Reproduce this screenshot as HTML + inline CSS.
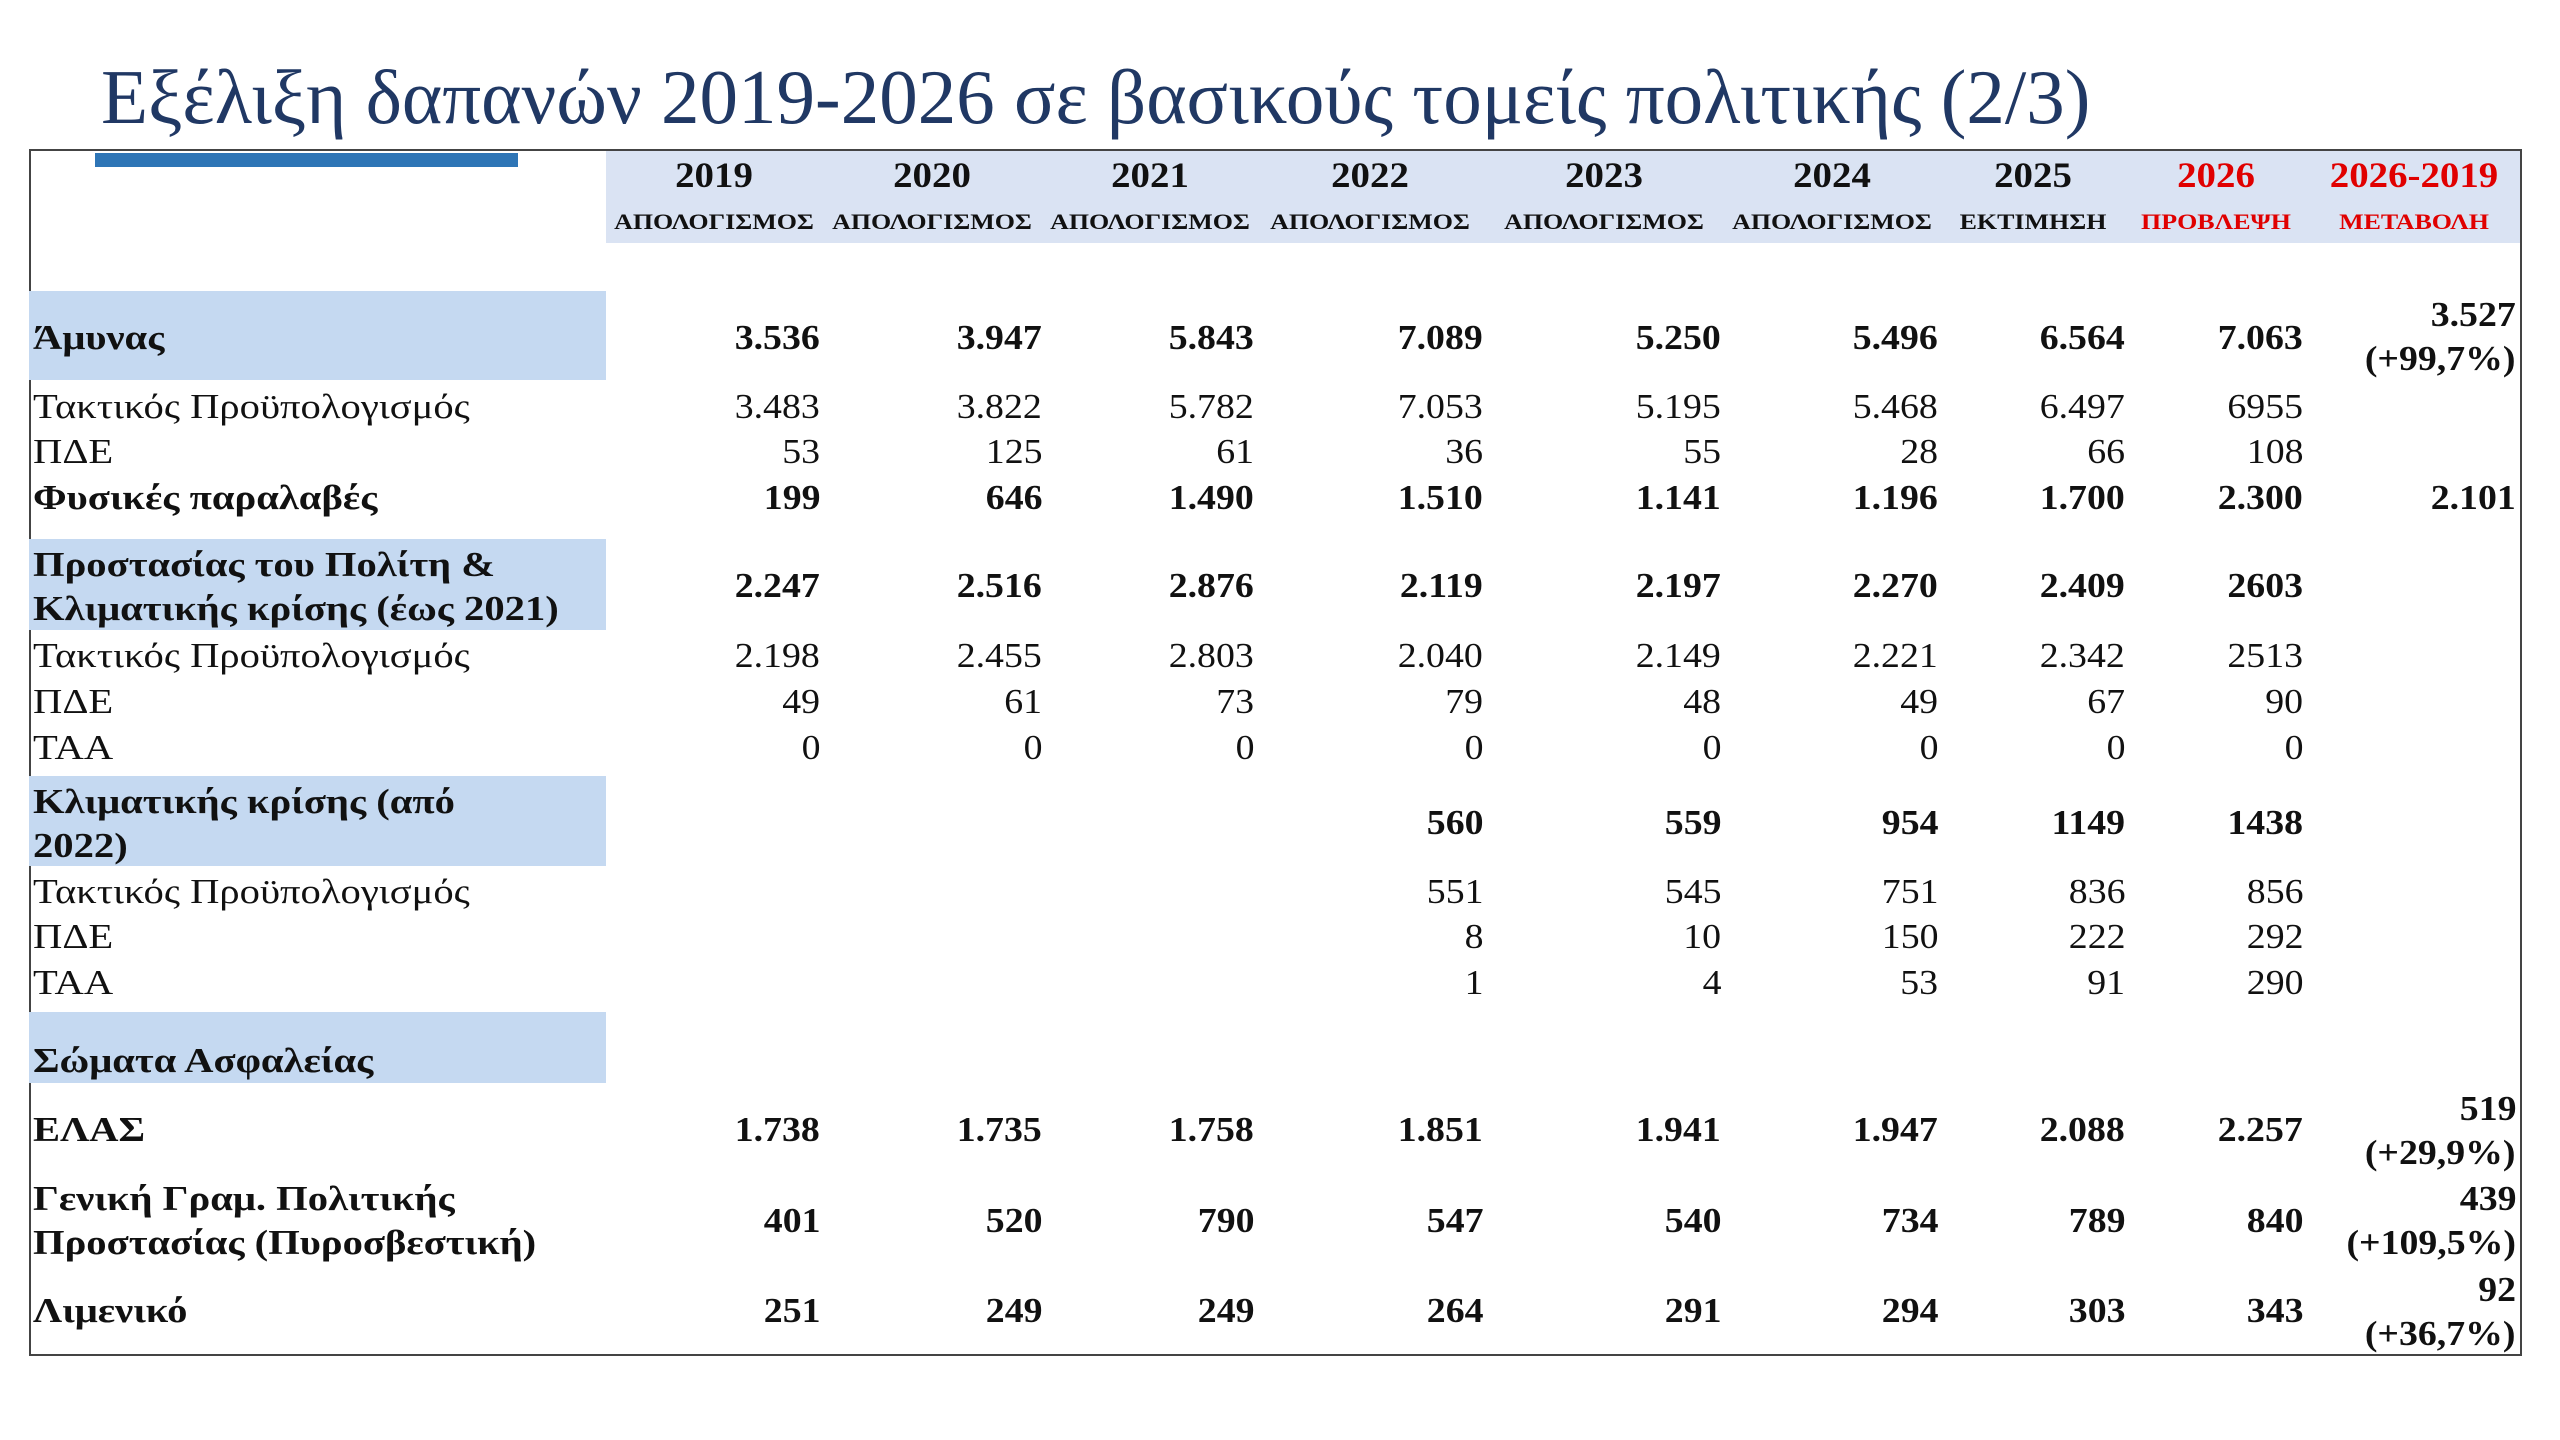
<!DOCTYPE html>
<html><head><meta charset="utf-8"><style>
body{margin:0;width:2560px;height:1440px;background:#fff;position:relative;overflow:hidden;font-family:"Liberation Serif","DejaVu Serif",serif;color:#111}
div{position:absolute;white-space:nowrap}
.t{left:101px;top:47px;font-size:77px;line-height:100px;color:#203864}
.box{left:29px;top:149px;width:2489px;height:1203px;border:2px solid #444}
.hb{left:606px;top:149px;width:1914px;height:94px;background:#dae3f3}
.bar{left:95px;top:153px;width:423px;height:14px;background:#2e75b6}
.band{left:29px;width:577px;background:#c5d9f1}
.y{font-size:36px;font-weight:bold;line-height:46px;top:152px;transform:translateX(-50%) scaleX(1.08)}
.s{font-size:22px;font-weight:bold;line-height:30px;top:207px;transform:translateX(-50%) scaleX(1.18)}
.r{color:#e00000}
.l{left:33px;font-size:35px;line-height:46px;transform:scaleX(1.16);transform-origin:left center}
.n{font-size:35px;line-height:46px;transform:scaleX(1.08);transform-origin:right center}
.b{font-weight:bold}
.c1{right:1740px}.c2{right:1518px}.c3{right:1306px}.c4{right:1077px}.c5{right:839px}.c6{right:622px}.c7{right:435px}.c8{right:257px}.c9{right:44px}
</style></head><body>
<div class="t">Εξέλιξη δαπανών 2019-2026 σε βασικούς τομείς πολιτικής (2/3)</div>
<div class="hb"></div>
<div class="box"></div>
<div class="bar"></div>
<div class="y" style="left:714px">2019</div><div class="s" style="left:714px">ΑΠΟΛΟΓΙΣΜΟΣ</div>
<div class="y" style="left:932px">2020</div><div class="s" style="left:932px">ΑΠΟΛΟΓΙΣΜΟΣ</div>
<div class="y" style="left:1150px">2021</div><div class="s" style="left:1150px">ΑΠΟΛΟΓΙΣΜΟΣ</div>
<div class="y" style="left:1370px">2022</div><div class="s" style="left:1370px">ΑΠΟΛΟΓΙΣΜΟΣ</div>
<div class="y" style="left:1604px">2023</div><div class="s" style="left:1604px">ΑΠΟΛΟΓΙΣΜΟΣ</div>
<div class="y" style="left:1832px">2024</div><div class="s" style="left:1832px">ΑΠΟΛΟΓΙΣΜΟΣ</div>
<div class="y" style="left:2033px">2025</div><div class="s" style="left:2033px">ΕΚΤΙΜΗΣΗ</div>
<div class="y r" style="left:2216px">2026</div><div class="s r" style="left:2216px">ΠΡΟΒΛΕΨΗ</div>
<div class="y r" style="left:2414px">2026-2019</div><div class="s r" style="left:2414px">ΜΕΤΑΒΟΛΗ</div>

<div class="band" style="top:291px;height:89px"></div>
<div class="band" style="top:539px;height:91px"></div>
<div class="band" style="top:776px;height:90px"></div>
<div class="band" style="top:1012px;height:71px"></div>

<div class="l b" style="top:315px">Άμυνας</div>
<div class="n b c1" style="top:315px">3.536</div><div class="n b c2" style="top:315px">3.947</div><div class="n b c3" style="top:315px">5.843</div><div class="n b c4" style="top:315px">7.089</div><div class="n b c5" style="top:315px">5.250</div><div class="n b c6" style="top:315px">5.496</div><div class="n b c7" style="top:315px">6.564</div><div class="n b c8" style="top:315px">7.063</div>
<div class="n b c9" style="top:292px">3.527</div><div class="n b c9" style="top:336px">(+99,7%)</div>

<div class="l" style="top:384px">Τακτικός Προϋπολογισμός</div>
<div class="n c1" style="top:384px">3.483</div><div class="n c2" style="top:384px">3.822</div><div class="n c3" style="top:384px">5.782</div><div class="n c4" style="top:384px">7.053</div><div class="n c5" style="top:384px">5.195</div><div class="n c6" style="top:384px">5.468</div><div class="n c7" style="top:384px">6.497</div><div class="n c8" style="top:384px">6955</div>

<div class="l" style="top:429px">ΠΔΕ</div>
<div class="n c1" style="top:429px">53</div><div class="n c2" style="top:429px">125</div><div class="n c3" style="top:429px">61</div><div class="n c4" style="top:429px">36</div><div class="n c5" style="top:429px">55</div><div class="n c6" style="top:429px">28</div><div class="n c7" style="top:429px">66</div><div class="n c8" style="top:429px">108</div>

<div class="l b" style="top:475px">Φυσικές παραλαβές</div>
<div class="n b c1" style="top:475px">199</div><div class="n b c2" style="top:475px">646</div><div class="n b c3" style="top:475px">1.490</div><div class="n b c4" style="top:475px">1.510</div><div class="n b c5" style="top:475px">1.141</div><div class="n b c6" style="top:475px">1.196</div><div class="n b c7" style="top:475px">1.700</div><div class="n b c8" style="top:475px">2.300</div><div class="n b c9" style="top:475px">2.101</div>

<div class="l b" style="top:542px">Προστασίας του Πολίτη &amp;</div>
<div class="l b" style="top:586px">Κλιματικής κρίσης (έως 2021)</div>
<div class="n b c1" style="top:563px">2.247</div><div class="n b c2" style="top:563px">2.516</div><div class="n b c3" style="top:563px">2.876</div><div class="n b c4" style="top:563px">2.119</div><div class="n b c5" style="top:563px">2.197</div><div class="n b c6" style="top:563px">2.270</div><div class="n b c7" style="top:563px">2.409</div><div class="n b c8" style="top:563px">2603</div>

<div class="l" style="top:633px">Τακτικός Προϋπολογισμός</div>
<div class="n c1" style="top:633px">2.198</div><div class="n c2" style="top:633px">2.455</div><div class="n c3" style="top:633px">2.803</div><div class="n c4" style="top:633px">2.040</div><div class="n c5" style="top:633px">2.149</div><div class="n c6" style="top:633px">2.221</div><div class="n c7" style="top:633px">2.342</div><div class="n c8" style="top:633px">2513</div>

<div class="l" style="top:679px">ΠΔΕ</div>
<div class="n c1" style="top:679px">49</div><div class="n c2" style="top:679px">61</div><div class="n c3" style="top:679px">73</div><div class="n c4" style="top:679px">79</div><div class="n c5" style="top:679px">48</div><div class="n c6" style="top:679px">49</div><div class="n c7" style="top:679px">67</div><div class="n c8" style="top:679px">90</div>

<div class="l" style="top:725px">ΤΑΑ</div>
<div class="n c1" style="top:725px">0</div><div class="n c2" style="top:725px">0</div><div class="n c3" style="top:725px">0</div><div class="n c4" style="top:725px">0</div><div class="n c5" style="top:725px">0</div><div class="n c6" style="top:725px">0</div><div class="n c7" style="top:725px">0</div><div class="n c8" style="top:725px">0</div>

<div class="l b" style="top:779px">Κλιματικής κρίσης (από</div>
<div class="l b" style="top:823px">2022)</div>
<div class="n b c4" style="top:800px">560</div><div class="n b c5" style="top:800px">559</div><div class="n b c6" style="top:800px">954</div><div class="n b c7" style="top:800px">1149</div><div class="n b c8" style="top:800px">1438</div>

<div class="l" style="top:869px">Τακτικός Προϋπολογισμός</div>
<div class="n c4" style="top:869px">551</div><div class="n c5" style="top:869px">545</div><div class="n c6" style="top:869px">751</div><div class="n c7" style="top:869px">836</div><div class="n c8" style="top:869px">856</div>

<div class="l" style="top:914px">ΠΔΕ</div>
<div class="n c4" style="top:914px">8</div><div class="n c5" style="top:914px">10</div><div class="n c6" style="top:914px">150</div><div class="n c7" style="top:914px">222</div><div class="n c8" style="top:914px">292</div>

<div class="l" style="top:960px">ΤΑΑ</div>
<div class="n c4" style="top:960px">1</div><div class="n c5" style="top:960px">4</div><div class="n c6" style="top:960px">53</div><div class="n c7" style="top:960px">91</div><div class="n c8" style="top:960px">290</div>

<div class="l b" style="top:1038px">Σώματα Ασφαλείας</div>

<div class="l b" style="top:1107px">ΕΛΑΣ</div>
<div class="n b c1" style="top:1107px">1.738</div><div class="n b c2" style="top:1107px">1.735</div><div class="n b c3" style="top:1107px">1.758</div><div class="n b c4" style="top:1107px">1.851</div><div class="n b c5" style="top:1107px">1.941</div><div class="n b c6" style="top:1107px">1.947</div><div class="n b c7" style="top:1107px">2.088</div><div class="n b c8" style="top:1107px">2.257</div>
<div class="n b c9" style="top:1086px">519</div><div class="n b c9" style="top:1130px">(+29,9%)</div>

<div class="l b" style="top:1176px">Γενική Γραμ. Πολιτικής</div>
<div class="l b" style="top:1220px">Προστασίας (Πυροσβεστική)</div>
<div class="n b c1" style="top:1198px">401</div><div class="n b c2" style="top:1198px">520</div><div class="n b c3" style="top:1198px">790</div><div class="n b c4" style="top:1198px">547</div><div class="n b c5" style="top:1198px">540</div><div class="n b c6" style="top:1198px">734</div><div class="n b c7" style="top:1198px">789</div><div class="n b c8" style="top:1198px">840</div>
<div class="n b c9" style="top:1176px">439</div><div class="n b c9" style="top:1220px">(+109,5%)</div>

<div class="l b" style="top:1288px">Λιμενικό</div>
<div class="n b c1" style="top:1288px">251</div><div class="n b c2" style="top:1288px">249</div><div class="n b c3" style="top:1288px">249</div><div class="n b c4" style="top:1288px">264</div><div class="n b c5" style="top:1288px">291</div><div class="n b c6" style="top:1288px">294</div><div class="n b c7" style="top:1288px">303</div><div class="n b c8" style="top:1288px">343</div>
<div class="n b c9" style="top:1267px">92</div><div class="n b c9" style="top:1311px">(+36,7%)</div>
</body></html>
